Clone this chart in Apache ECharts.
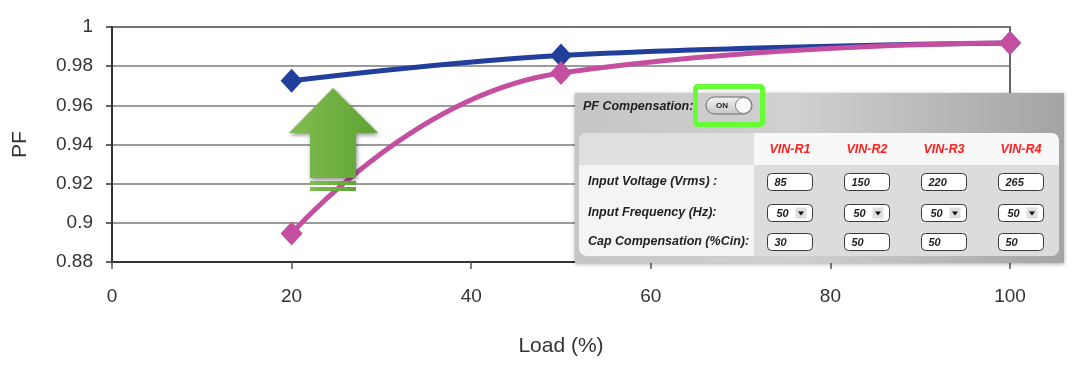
<!DOCTYPE html>
<html>
<head>
<meta charset="utf-8">
<script src="https://cdn.jsdelivr.net/npm/echarts@6/dist/echarts.min.js"></script>
<style>
  html, body { margin: 0; padding: 0; background: #fff; }
  #chart { width: 1080px; height: 376px; }
</style>
</head>
<body>
<div id="chart"></div>
<script>
// 曲线数据
const loads = [20, 50, 100];
const pfOn = [0.9725, 0.9855, 0.9918];
const pfOff = [0.8945, 0.9765, 0.9918];

// 面板数据
const columns = ['VIN-R1', 'VIN-R2', 'VIN-R3', 'VIN-R4'];
const rowLabels = ['Input Voltage (Vrms) :', 'Input Frequency (Hz):', 'Cap Compensation (%Cin):'];
const inputVoltage = ['85', '150', '220', '265'];
const inputFrequency = ['50', '50', '50', '50'];
const capCompensation = ['30', '50', '50', '50'];

const chart = echarts.init(document.getElementById('chart'));

const panelFont = 'italic bold 12.5px "Liberation Sans", Arial, sans-serif';
const colX = [790, 867, 944, 1021];
const rowY = [182, 213, 242];

function inputBox(cx, cy, text, dropdown) {
  const els = [];
  const w = 45, h = 17;
  const x = cx - w / 2, y = cy - h / 2;
  els.push({
    type: 'rect', z: 120,
    shape: { x, y, width: w, height: h, r: 4 },
    style: { fill: '#fff', stroke: '#3a3a3a', lineWidth: 1 },
  });
  els.push({
    type: 'text', z: 121,
    style: {
      text, x: x + (dropdown ? 9 : 7), y: cy + 1,
      font: 'italic bold 11px "Liberation Sans", Arial, sans-serif',
      fill: '#222', textVerticalAlign: 'middle',
    },
  });
  if (dropdown) {
    els.push({
      type: 'rect', z: 121,
      shape: { x: x + 28, y: y + 3, width: 11, height: 11 },
      style: { fill: '#dedede' },
    });
    els.push({
      type: 'polygon', z: 122,
      shape: { points: [[x + 30.5, y + 7], [x + 36.5, y + 7], [x + 33.5, y + 11]] },
      style: { fill: '#111' },
    });
  }
  return els;
}

function buildPanel() {
  let els = [];
  // 外框
  els.push({
    type: 'rect', z: 100,
    shape: { x: 575, y: 93, width: 489, height: 170 },
    style: {
      fill: new echarts.graphic.LinearGradient(0, 0, 1, 0, [
        { offset: 0, color: '#c6c6c6' },
        { offset: 0.45, color: '#d0d0d0' },
        { offset: 1, color: '#a4a4a4' },
      ]),
      shadowBlur: 4, shadowColor: 'rgba(0,0,0,0.35)', shadowOffsetY: 1,
    },
  });
  // 内部表格
  els.push({
    type: 'rect', z: 101,
    shape: { x: 579, y: 133, width: 480, height: 123, r: 8 },
    style: { fill: '#f4f4f4' },
  });
  els.push({
    type: 'rect', z: 102,
    shape: { x: 579, y: 133, width: 175, height: 32, r: [8, 0, 0, 0] },
    style: { fill: '#dfdfdf' },
  });
  els.push({
    type: 'rect', z: 102,
    shape: { x: 754, y: 133, width: 305, height: 32, r: [0, 8, 0, 0] },
    style: { fill: '#f8f8f8' },
  });
  els.push({
    type: 'rect', z: 102,
    shape: { x: 754, y: 165, width: 305, height: 91, r: [0, 0, 8, 0] },
    style: { fill: '#dcdcdc' },
  });
  els.push({
    type: 'text', z: 110,
    style: { text: 'PF Compensation:', x: 583, y: 107, font: panelFont, fill: '#222', textVerticalAlign: 'middle' },
  });
  // 开关
  els.push({
    type: 'rect', z: 110,
    shape: { x: 706, y: 97, width: 46, height: 17, r: 8.5 },
    style: {
      fill: new echarts.graphic.LinearGradient(0, 0, 0, 1, [
        { offset: 0, color: '#f4f4f4' },
        { offset: 1, color: '#c4c4c4' },
      ]),
      stroke: '#6a6a6a', lineWidth: 1,
    },
  });
  els.push({
    type: 'text', z: 111,
    style: { text: 'ON', x: 722, y: 106, font: 'bold 8px "Liberation Sans", Arial, sans-serif', fill: '#222', textAlign: 'center', textVerticalAlign: 'middle' },
  });
  els.push({
    type: 'circle', z: 111,
    shape: { cx: 743.5, cy: 105.5, r: 8 },
    style: { fill: '#fafafa', stroke: '#7a7a7a', lineWidth: 1 },
  });
  els.push({
    type: 'rect', z: 112,
    shape: { x: 695.5, y: 86.5, width: 67, height: 38, r: 2 },
    style: { fill: null, stroke: '#66ff33', lineWidth: 5 },
  });
  columns.forEach((c, i) => {
    els.push({
      type: 'text', z: 110,
      style: { text: c, x: colX[i], y: 150, font: panelFont, fill: '#ff1f1f', textAlign: 'center', textVerticalAlign: 'middle' },
    });
  });
  rowLabels.forEach((t, i) => {
    els.push({
      type: 'text', z: 110,
      style: { text: t, x: 588, y: rowY[i], font: panelFont, fill: '#222', textVerticalAlign: 'middle' },
    });
  });
  [inputVoltage, inputFrequency, capCompensation].forEach((row, r) => {
    row.forEach((v, i) => {
      els = els.concat(inputBox(colX[i], rowY[r], v, r === 1));
    });
  });
  return els;
}

function buildArrow() {
  const green = new echarts.graphic.LinearGradient(0, 0, 1, 0, [
    { offset: 0, color: '#82bd52' },
    { offset: 1, color: '#5fa334' },
  ]);
  return [
    {
      type: 'polygon', z: 50,
      shape: { points: [[333, 88], [378, 133], [356, 133], [356, 178], [310, 178], [310, 133], [289, 133]] },
      style: { fill: green, shadowBlur: 4, shadowColor: 'rgba(0,0,0,0.45)', shadowOffsetX: 1, shadowOffsetY: 2 },
    },
    { type: 'rect', z: 50, shape: { x: 310, y: 181, width: 46, height: 4 }, style: { fill: green } },
    { type: 'rect', z: 50, shape: { x: 310, y: 187, width: 46, height: 4 }, style: { fill: green } },
  ];
}

const option = {
  backgroundColor: '#fff',
  animation: false,
  grid: {
    left: 112, right: 70, top: 27, bottom: 114,
    outerBoundsMode: 'none', containLabel: false,
    show: true, borderColor: '#333', borderWidth: 1.5, backgroundColor: 'transparent',
  },
  xAxis: {
    type: 'value', min: 0, max: 100, interval: 20,
    name: 'Load (%)', nameLocation: 'middle', nameGap: 74,
    nameTextStyle: { fontSize: 21, color: '#333', fontFamily: 'Liberation Sans' },
    axisLine: { lineStyle: { color: '#333', width: 2 } },
    axisTick: { show: true, length: 7, lineStyle: { color: '#555', width: 1.5 } },
    axisLabel: { fontSize: 19, color: '#333', margin: 25, fontFamily: 'Liberation Sans' },
    splitLine: { show: false },
  },
  yAxis: {
    type: 'value', min: 0.88, max: 1, interval: 0.02,
    name: 'PF', nameLocation: 'middle', nameGap: 81,
    nameTextStyle: { fontSize: 21, color: '#333', fontFamily: 'Liberation Sans' },
    axisLine: { show: true, lineStyle: { color: '#333', width: 2 } },
    axisTick: { show: true, length: 6, lineStyle: { color: '#333', width: 1.5 } },
    axisLabel: {
      fontSize: 19, color: '#333', margin: 19, fontFamily: 'Liberation Sans',
      formatter: v => String(+v.toFixed(2)),
    },
    splitLine: { show: true, lineStyle: { color: '#7a7a7a', width: 1.5 } },
  },
  series: [
    {
      name: 'ON', type: 'line', smooth: 0.4,
      data: loads.map((x, i) => [x, pfOn[i]]),
      symbol: 'diamond', symbolSize: [22, 24],
      lineStyle: { color: '#22409b', width: 5 },
      itemStyle: { color: '#22409b' },
      z: 3,
    },
    {
      name: 'OFF', type: 'line', smooth: 0.5,
      data: loads.map((x, i) => [x, pfOff[i]]),
      symbol: 'diamond', symbolSize: [22, 24],
      lineStyle: { color: '#c44fa0', width: 5 },
      itemStyle: { color: '#c44fa0' },
      z: 4,
    },
  ],
  graphic: { elements: buildArrow().concat(buildPanel()) },
};

chart.setOption(option);
</script>
</body>
</html>
